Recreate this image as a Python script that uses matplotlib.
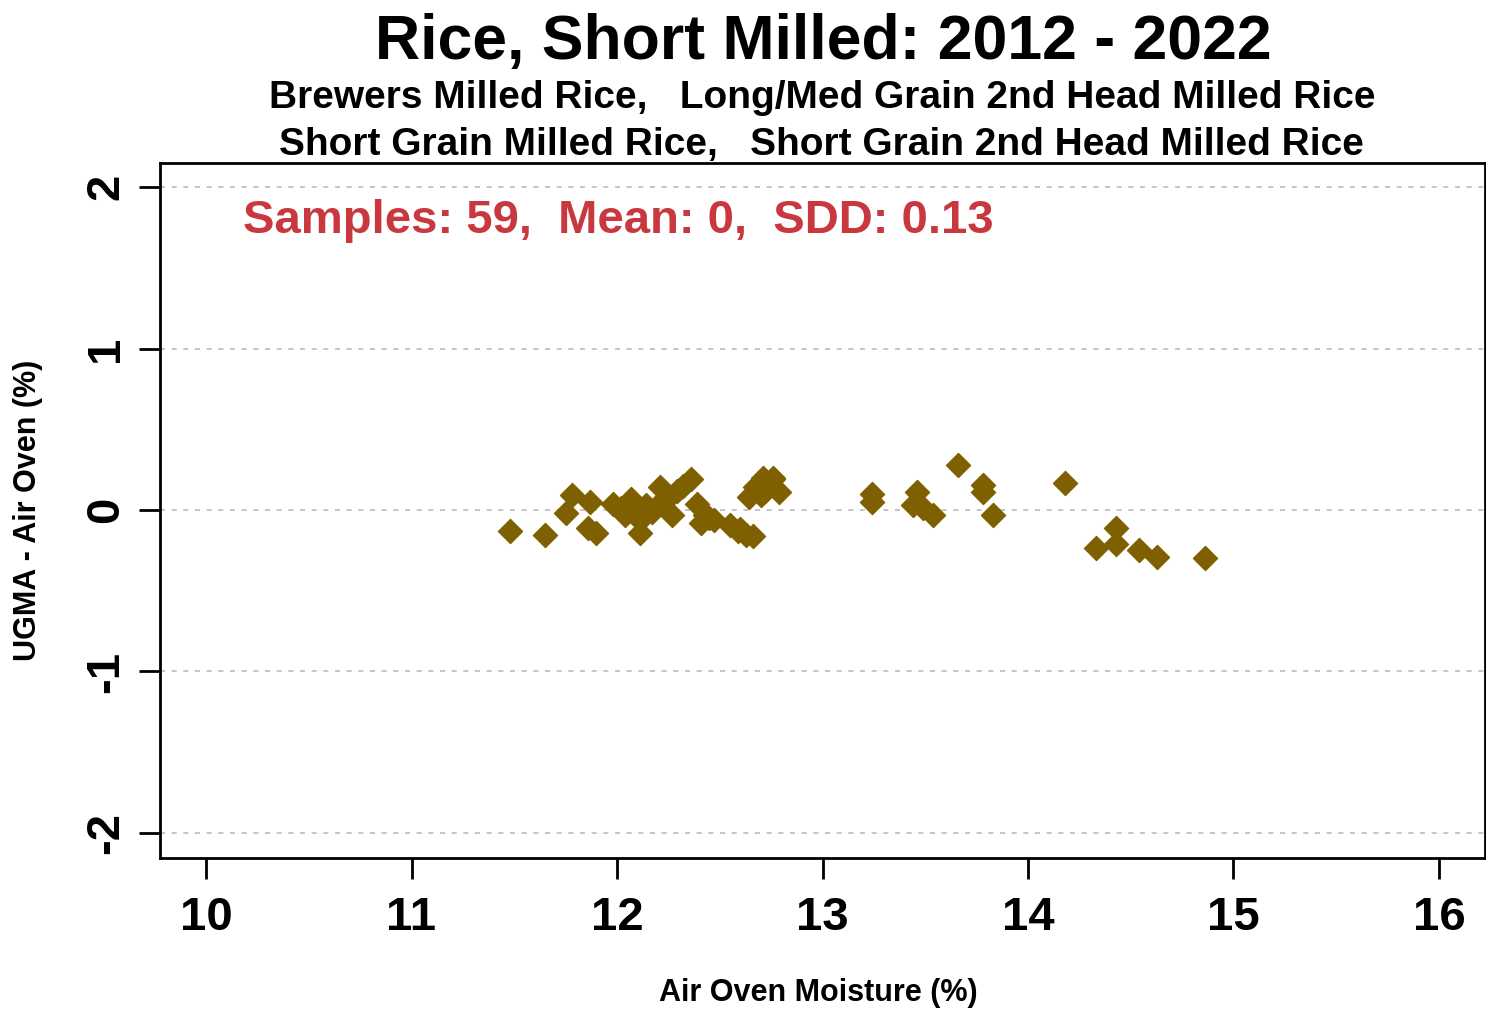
import matplotlib
matplotlib.use("Agg")
import matplotlib.pyplot as plt

plt.rcParams['font.family'] = ['Liberation Sans', 'DejaVu Sans']

# air oven moisture (%) and UGMA - air oven difference (%)
moisture = [11.48, 11.65, 11.78, 11.75, 11.86, 11.90, 11.87, 11.98, 12.02, 12.04,
            12.07, 12.11, 12.11, 12.14, 12.17, 12.21, 12.24, 12.27, 12.29, 12.32,
            12.36, 12.39, 12.41, 12.43, 12.47, 12.55, 12.59, 12.63, 12.66, 12.64,
            12.67, 12.71, 12.74, 12.76, 12.79, 12.70, 12.76, 12.05, 12.19, 12.45,
            12.72, 12.60,
            13.24, 13.24, 13.46, 13.44, 13.49, 13.54, 13.66, 13.78, 13.78, 13.83,
            14.18, 14.33, 14.43, 14.43, 14.54, 14.63, 14.86]
diff = [-0.13, -0.155, 0.09, -0.02, -0.11, -0.14, 0.05, 0.04, 0.01, -0.03,
        0.07, -0.06, -0.14, 0.03, -0.01, 0.14, 0.06, -0.03, 0.12, 0.15,
        0.19, 0.04, -0.08, -0.03, -0.06, -0.09, -0.13, -0.155, -0.16, 0.08,
        0.14, 0.20, 0.15, 0.19, 0.11, 0.09, 0.20, 0.00, 0.02, -0.05,
        0.12, -0.12,
        0.10, 0.05, 0.11, 0.03, 0.01, -0.03, 0.28, 0.155, 0.11, -0.03,
        0.17, -0.235, -0.11, -0.21, -0.25, -0.29, -0.30]

xticks = [10, 11, 12, 13, 14, 15, 16]
yticks = [-2, -1, 0, 1, 2]

fig = plt.figure(figsize=(14.86, 10.11), dpi=100)
ax = fig.add_axes([160 / 1486, 1 - 858 / 1011, 1325 / 1486, 695 / 1011])

ax.scatter(moisture, diff, marker='D', s=150, color='#7f6000', zorder=3)

ax.set_xlim(9.776, 16.224)
ax.set_ylim(-2.155, 2.149)
ax.set_xticks(xticks)
ax.set_yticks(yticks)
ax.set_xticklabels([str(v) for v in xticks], fontsize=34, fontweight='bold')
ax.set_yticklabels([str(v) for v in yticks], fontsize=34, fontweight='bold',
                   rotation=90, va='center')
ax.tick_params(axis='both', direction='out', length=15, width=2)
ax.tick_params(axis='x', pad=12)
ax.tick_params(axis='y', pad=8)
for sp in ax.spines.values():
    sp.set_linewidth(2)
ax.grid(axis='y', linestyle=(0, (3, 4)), color='#bbbbbb', linewidth=1.2)
ax.set_axisbelow(True)

ax.set_xlabel("Air Oven Moisture (%)", fontsize=22, fontweight='bold', va='center')
ax.set_ylabel("UGMA - Air Oven (%)", fontsize=22, fontweight='bold', va='center')
ax.xaxis.set_label_coords(0.497, -0.194)
ax.yaxis.set_label_coords(-0.0996, 0.5)

ax.text(0.063, 0.916, "Samples: 59,  Mean: 0,  SDD: 0.13", transform=ax.transAxes,
        fontsize=34, fontweight='bold', color='#c8383e', va='center')

fig.text(0.554, 0.958, "Rice, Short Milled: 2012 - 2022", ha='center', va='center',
         fontsize=45, fontweight='bold')
fig.text(0.553, 0.903, "Brewers Milled Rice,   Long/Med Grain 2nd Head Milled Rice",
         ha='center', va='center', fontsize=28, fontweight='bold')
fig.text(0.553, 0.857, "Short Grain Milled Rice,   Short Grain 2nd Head Milled Rice",
         ha='center', va='center', fontsize=28, fontweight='bold')

fig.savefig("out.png", dpi=100)
